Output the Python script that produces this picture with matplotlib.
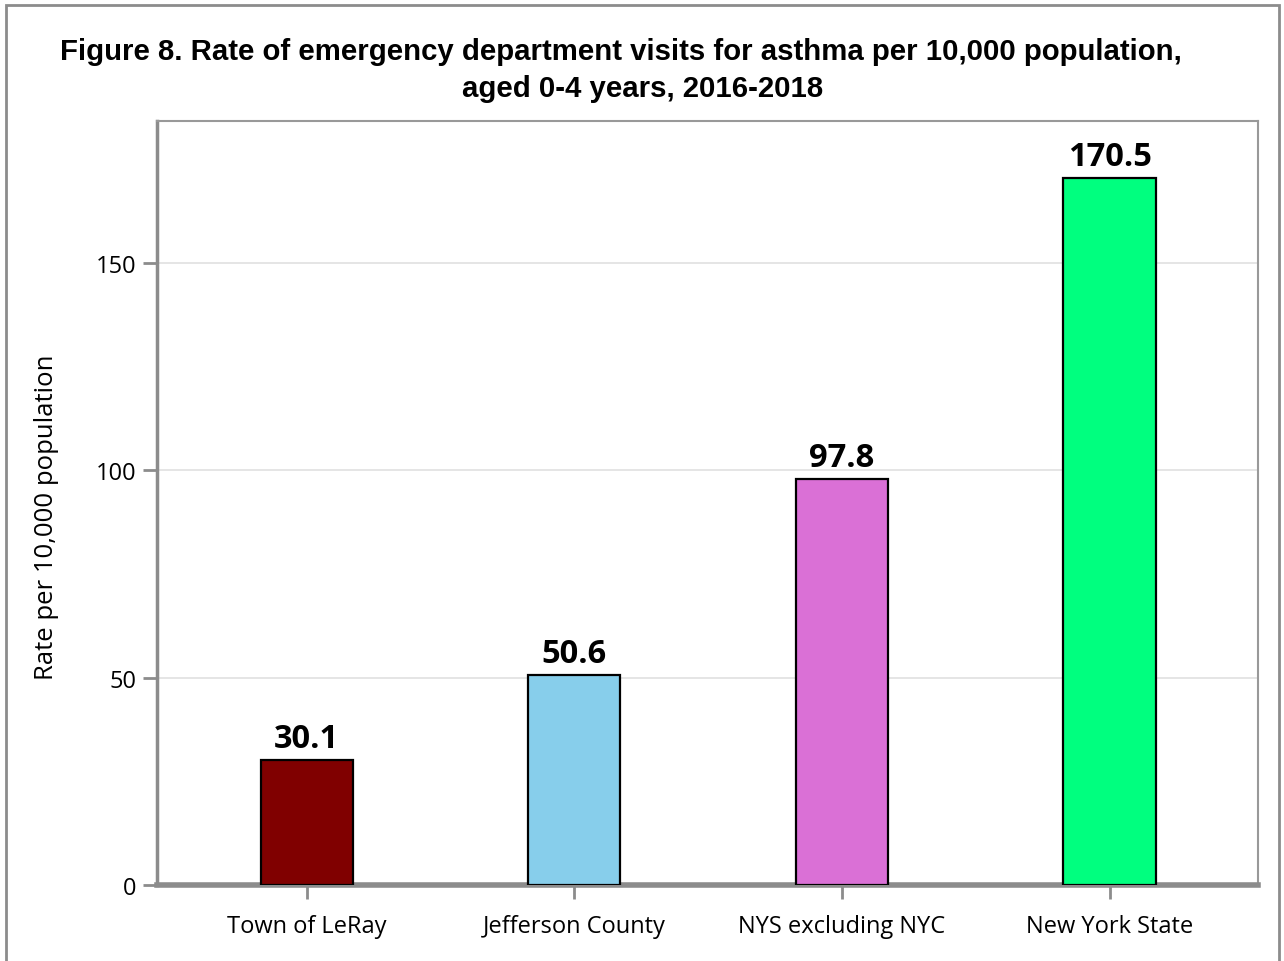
import matplotlib.pyplot as plt
from matplotlib.patches import Rectangle
import numpy as np

categories = ["Town of LeRay", "Jefferson County", "NYS excluding NYC", "New York State"]
rates = [30.1, 50.6, 97.8, 170.5]
colors = ["#800000", "#87CEEB", "#DA70D6", "#00FF7F"]
y_ticks = [0, 50, 100, 150]

title_1 = "Figure 8. Rate of emergency department visits for asthma per 10,000 population,"
title_2 = "aged 0-4 years, 2016-2018"

fig = plt.figure(figsize=(12.84, 9.62), dpi=100)
ax = fig.add_axes([157 / 1284, 1 - 886 / 962, (1258 - 157) / 1284, (886 - 122) / 962])

# outer frame
fig.patches.append(Rectangle((6 / 1284, -0.01), 1273 / 1284, 1 - 6 / 962 + 0.01,
                             transform=fig.transFigure, fill=False,
                             edgecolor="#8c8c8c", linewidth=2))

x = np.arange(len(categories))
ax.bar(x, rates, width=0.344, color=colors, edgecolor="black", linewidth=1.6, zorder=3)

for xi, v in zip(x, rates):
    ax.annotate(f"{v:.1f}", (xi, v), xytext=(0, 9.5), textcoords="offset points",
                ha="center", va="baseline", fontsize=23.5, fontweight="bold",
                family="Open Sans")

ax.set_xlim(-0.56, 3.555)
ax.set_ylim(0, 184.2)
ax.set_yticks(y_ticks)
ax.set_yticklabels([str(t) for t in y_ticks], fontsize=17, family="Open Sans")
ax.set_xticks(x)
ax.set_xticklabels(categories, fontsize=17, family="Open Sans")
ax.tick_params(axis="y", length=10, width=2, color="#8c8c8c", pad=5)
ax.tick_params(axis="x", length=10, width=2, color="#8c8c8c", pad=11)

ax.grid(axis="y", color="#e0e0e0", linewidth=1.2, zorder=0)
ax.set_axisbelow(True)

for side in ["top", "right"]:
    ax.spines[side].set_color("#999999")
    ax.spines[side].set_linewidth(1.5)
ax.spines["left"].set_color("#8c8c8c")
ax.spines["left"].set_linewidth(2.5)
ax.spines["bottom"].set_color("#8c8c8c")
ax.spines["bottom"].set_linewidth(4)

ax.set_ylabel("Rate per 10,000 population", fontsize=18.5, family="Open Sans")
ax.yaxis.set_label_coords(-0.089, 0.483)

fig.text(621 / 1284, 1 - 60 / 962, title_1, ha="center", va="baseline", fontsize=21.2,
         fontweight="bold", family="Liberation Sans")
fig.text(643 / 1284, 1 - 97 / 962, title_2, ha="center", va="baseline", fontsize=21.2,
         fontweight="bold", family="Liberation Sans")

fig.savefig("out.png", dpi=100)
